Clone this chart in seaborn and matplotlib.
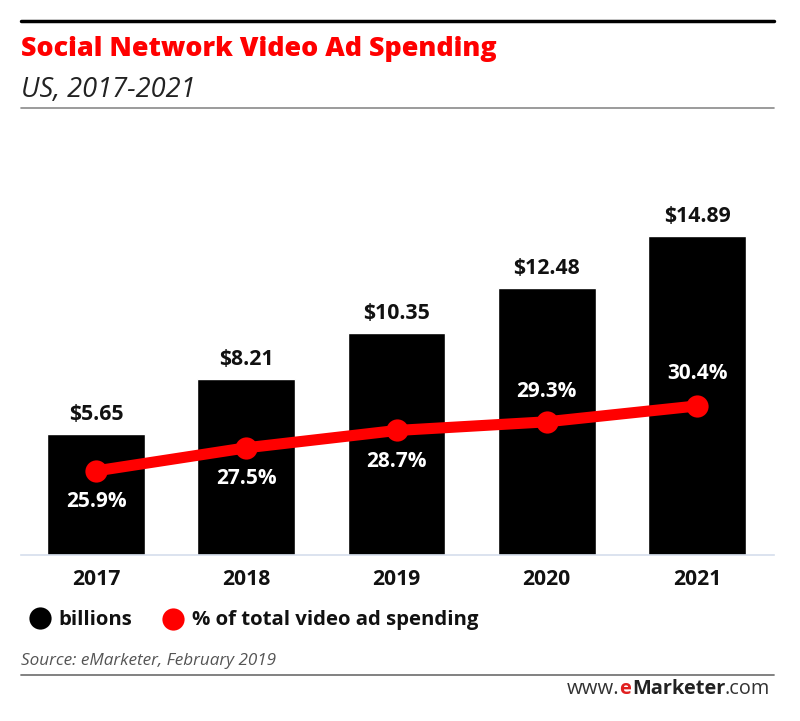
import pandas as pd
import numpy as np
import matplotlib
matplotlib.use('Agg')
import matplotlib.pyplot as plt
import seaborn as sns

# values
years = ['2017', '2018', '2019', '2020', '2021']
billions = [5.65, 8.21, 10.35, 12.48, 14.89]
share = [25.9, 27.5, 28.7, 29.3, 30.4]
bar_labels = ['$5.65', '$8.21', '$10.35', '$12.48', '$14.89']
share_labels = ['25.9%', '27.5%', '28.7%', '29.3%', '30.4%']
share_offsets = [-31, -31, -31, 30, 32]

W, H = 800, 721

sns.set_theme(style='white')
plt.rcParams['font.family'] = ['Open Sans', 'DejaVu Sans']
plt.rcParams['text.parse_math'] = False

df = pd.DataFrame({'year': years, 'billions': billions, 'share': share})

fig = plt.figure(figsize=(W / 100, H / 100), dpi=100)
ax = fig.add_axes([21 / W, 1 - 555 / H, 753 / W, 425 / H])

sns.barplot(data=df, x='year', y='billions', color='black', saturation=1, width=0.65, ax=ax)
ax.set_xlim(-0.499, 4.512)
ax.set_ylim(0, 19.85)
ax.set_xlabel('')
ax.set_ylabel('')
ax.set_yticks([])
ax.tick_params(axis='x', length=0, pad=10)
for lab in ax.get_xticklabels():
    lab.set_fontsize(15.2)
    lab.set_fontweight('bold')
    lab.set_color('#111111')
for s in ['top', 'left', 'right']:
    ax.spines[s].set_visible(False)
ax.spines['bottom'].set_color('#d5deec')
ax.spines['bottom'].set_linewidth(1.2)

for i, v in enumerate(billions):
    ax.annotate(bar_labels[i], (i, v), xytext=(0, 9), textcoords='offset pixels',
                ha='center', va='bottom', fontsize=15.3, fontweight='bold', color='#111111')

# share line on its own axis
ax2 = ax.twinx()
sns.lineplot(data=df, x='year', y='share', color='#ff0000', linewidth=8, marker='o',
             markersize=16, markeredgewidth=0, ax=ax2)
ax2.set_ylim(20.08, 49.5)
ax2.set_xlabel('')
ax2.set_ylabel('')
ax2.set_yticks([])
for s in ax2.spines.values():
    s.set_visible(False)

for i, v in enumerate(share):
    ax2.annotate(share_labels[i], (i, v), xytext=(0, share_offsets[i]), textcoords='offset pixels',
                 ha='center', va='center', fontsize=15, fontweight='bold', color='white')

# legend, drawn as figure level markers
def fig_xy(px, py):
    return px / W, 1 - py / H

fig.add_artist(plt.Line2D([fig_xy(40, 0)[0]], [fig_xy(0, 618)[1]], marker='o', color='black',
                          markersize=16, markeredgewidth=0, linestyle='none'))
fig.add_artist(plt.Line2D([fig_xy(173, 0)[0]], [fig_xy(0, 619)[1]], marker='o', color='#ff0000',
                          markersize=16, markeredgewidth=0, linestyle='none'))
fig.text(*fig_xy(58, 620), 'billions', fontsize=14.6, fontweight='bold', color='#111111', va='center')
fig.text(*fig_xy(192, 620), '% of total video ad spending', fontsize=14.7, fontweight='bold',
         color='#111111', va='center')

# header and footer
fig.add_artist(plt.Line2D([21 / W, 774 / W], [1 - 21 / H] * 2, color='black', linewidth=2.5))
fig.add_artist(plt.Line2D([21 / W, 774 / W], [1 - 108 / H] * 2, color='#8a8a8a', linewidth=1.2))
fig.add_artist(plt.Line2D([21 / W, 774 / W], [1 - 675 / H] * 2, color='#777777', linewidth=1.3))

fig.text(*fig_xy(21, 49), 'Social Network Video Ad Spending', fontsize=19.35, fontweight=800,
         color='#ff0000', va='center')
fig.text(*fig_xy(21, 90), 'US, 2017-2021', fontsize=19.6, fontstyle='italic', color='#222222', va='center')
fig.text(*fig_xy(21, 661), 'Source: eMarketer, February 2019', fontsize=12.3, fontstyle='italic',
         color='#555555', va='center')

fig.text(*fig_xy(567, 689), 'www.', fontsize=14.6, color='#333333', va='center')
fig.text(*fig_xy(619, 689), 'e', fontsize=14.5, fontweight='bold', color='#e02020', va='center')
fig.text(*fig_xy(632, 689), 'Marketer', fontsize=14.4, fontweight='bold', color='#222222', va='center')
fig.text(*fig_xy(725, 689), '.com', fontsize=14.3, color='#333333', va='center')

fig.savefig('out.png', dpi=100)
